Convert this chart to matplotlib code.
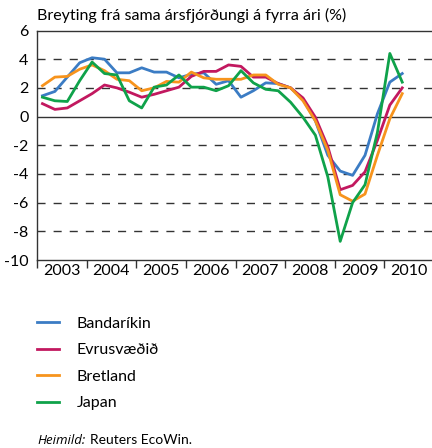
import numpy as np
import matplotlib
matplotlib.use('Agg')
import matplotlib.pyplot as plt

# quarterly y/y change, 2003Q1 - 2010Q2
bandarikin = [1.45, 1.75, 2.75, 3.75, 4.1, 4.0, 3.05, 3.05, 3.4, 3.1, 3.1, 2.7, 2.95, 3.05, 2.25,
              2.5, 1.35, 1.8, 2.35, 2.3, 2.0, 1.2, -0.3, -2.7, -3.8, -4.1, -2.7, 0.2, 2.4, 3.0]
evrusvaedid = [0.9, 0.5, 0.6, 1.1, 1.6, 2.2, 2.0, 1.7, 1.35, 1.55, 1.8, 2.05, 2.8, 3.15, 3.15,
               3.6, 3.5, 2.75, 2.75, 2.3, 2.0, 1.3, -0.05, -2.1, -5.1, -4.8, -3.85, -1.65, 0.8, 2.0]
bretland = [2.15, 2.75, 2.8, 3.3, 3.6, 3.2, 2.6, 2.5, 1.8, 2.0, 2.45, 2.4, 3.1, 2.7, 2.6,
            2.6, 2.6, 2.9, 2.9, 2.25, 2.0, 1.1, -0.3, -2.35, -5.45, -5.9, -5.4, -2.7, -0.15, 1.6]
japan = [1.35, 1.1, 1.05, 2.5, 3.8, 3.0, 2.9, 1.1, 0.6, 2.05, 2.2, 2.9, 2.05, 2.05, 1.8,
         2.15, 3.2, 2.35, 1.9, 1.8, 1.0, -0.05, -1.3, -4.2, -8.7, -6.0, -4.75, -1.1, 4.4, 2.4]

names = ['Bandaríkin', 'Evrusvæðið', 'Bretland', 'Japan']
colours = ['#3b7cc4', '#c2185f', '#f7941d', '#0fa24a']
years = [2003, 2004, 2005, 2006, 2007, 2008, 2009, 2010]

plt.rcParams['font.family'] = ['Lato', 'DejaVu Sans']
plt.rcParams['font.size'] = 11
plt.rcParams['axes.unicode_minus'] = False

x = 2003.11 + np.arange(len(japan)) / 4.0

fig = plt.figure(figsize=(4.32, 4.48), dpi=100)
ax = fig.add_axes([37/432, 1 - 260/448, 397/432, 229.5/448])

for y in [-8, -6, -4, -2, 2, 4]:
    ax.axhline(y, color='#333333', lw=1.0, dashes=(5.8, 5.8), zorder=1)
ax.axhline(0, color='#333333', lw=1.0, zorder=1)

for series, name, c in zip([bandarikin, evrusvaedid, bretland, japan], names, colours):
    ax.plot(x, series, color=c, lw=2.0, label=name, zorder=3)

ax.set_xlim(2003, 2011)
ax.set_ylim(-10, 6)
ax.set_yticks(range(-10, 7, 2))
ax.tick_params(axis='y', length=0, pad=6, labelsize=11.5)
ax.set_xticks(years + [2011])
ax.set_xticklabels([])
ax.set_xticks([yr + 0.5 for yr in years], minor=True)
ax.set_xticklabels([str(yr) for yr in years], minor=True)
ax.tick_params(axis='x', which='major', direction='out', length=6, width=1, color='#333333')
ax.tick_params(axis='x', which='minor', length=0, pad=3, labelsize=11.5)
for s in ['left', 'bottom', 'top']:
    ax.spines[s].set_color('#333333')
    ax.spines[s].set_linewidth(1.0)
ax.spines['right'].set_visible(False)

fig.text(37/432, 1 - 15/448, 'Breyting frá sama ársfjórðungi á fyrra ári (%)', va='center', ha='left', fontsize=11.5)

fig.legend(loc='upper left', bbox_to_anchor=(23/432, 1 - 302/448), frameon=False,
           handlelength=1.375, handletextpad=1.1, labelspacing=0.78, fontsize=11.5)

# source line
fig.text(37/432, 1 - 440/448, 'Heimild:', style='italic', family=['Open Sans', 'DejaVu Sans'],
         va='center', ha='left', fontsize=9.5)
fig.text(90/432, 1 - 440/448, 'Reuters EcoWin.', va='center', ha='left', fontsize=10)

fig.savefig('out.png', dpi=100)
